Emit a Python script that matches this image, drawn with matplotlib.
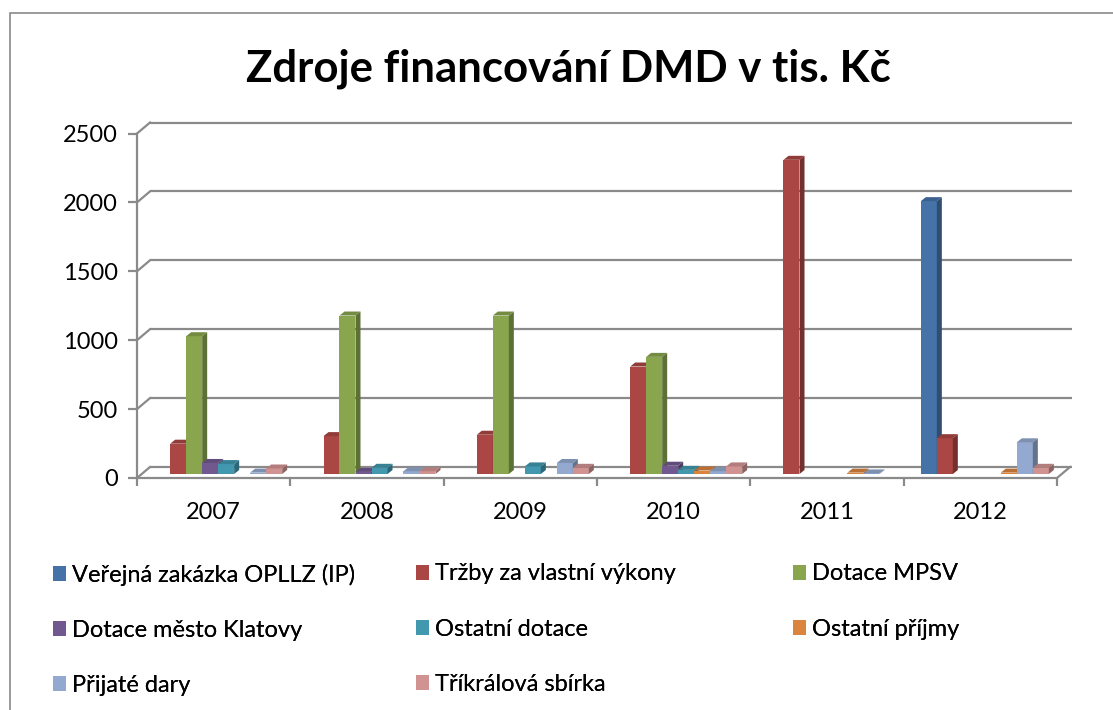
import matplotlib
matplotlib.use("Agg")
import matplotlib.pyplot as plt
import matplotlib.transforms as mtransforms
from matplotlib.patches import Polygon, Rectangle
import numpy as np

plt.rcParams['font.family'] = ['Lato', 'DejaVu Sans']

# data (tis. Kč)
years = ['2007', '2008', '2009', '2010', '2011', '2012']
series = ['Veřejná zakázka OPLLZ (IP)', 'Tržby za vlastní výkony', 'Dotace MPSV',
          'Dotace město Klatovy', 'Ostatní dotace', 'Ostatní příjmy',
          'Přijaté dary', 'Tříkrálová sbírka']
verejna_zakazka = [0, 0, 0, 0, 0, 1980]
trzby = [220, 275, 285, 780, 2280, 260]
dotace_mpsv = [1000, 1150, 1150, 850, 0, 0]
dotace_klatovy = [80, 15, 0, 60, 0, 0]
ostatni_dotace = [72, 45, 55, 30, 0, 0]
ostatni_prijmy = [0, 0, 0, 25, 10, 10]
prijate_dary = [10, 20, 80, 20, 4, 230]
trikralova = [40, 20, 45, 55, 0, 45]
values = [verejna_zakazka, trzby, dotace_mpsv, dotace_klatovy,
          ostatni_dotace, ostatni_prijmy, prijate_dary, trikralova]
yticks = [0, 500, 1000, 1500, 2000, 2500]

colors = ['#4572A7', '#AA4643', '#89A54E', '#71588F',
          '#4198AF', '#DB843D', '#93A9CF', '#D19392']
GRID = '#8a8a8a'

W, H = 1113, 710
fig = plt.figure(figsize=(W / 100, H / 100), dpi=100)

# outer chart border (clipped at right and bottom like the reference)
fig.patches.append(Rectangle((10 / W, -0.1), 1.2, (H - 13) / H + 0.1,
                             transform=fig.transFigure, fill=False,
                             edgecolor=GRID, lw=1.2))

# front plane of the 3D plot
x_left, x_right, y_zero, y_top = 137, 1057, 478, 133.5
ax = fig.add_axes([x_left / W, (H - y_zero) / H,
                   (x_right - x_left) / W, (y_zero - y_top) / H])
ax.set_xlim(0, len(years))
ax.set_ylim(0, 2500)
ax.patch.set_visible(False)

px_x = len(years) / (x_right - x_left)
px_y = 2500 / (y_zero - y_top)

# back wall / floor depth (pixels)
wall_dx, wall_dy = 13, 11
back = mtransforms.offset_copy(ax.transData, fig=fig, x=wall_dx, y=wall_dy, units='dots')
ax.hlines(yticks, 0, len(years) + 2 * px_x, colors=GRID, lw=1.6,
          transform=back, clip_on=False, zorder=1)
for v in yticks:
    ax.plot([0, wall_dx * px_x], [v, v + wall_dy * px_y], color=GRID, lw=1.6,
            clip_on=False, zorder=1)
ax.plot([len(years), len(years) + wall_dx * px_x], [0, wall_dy * px_y],
        color=GRID, lw=1.6, clip_on=False, zorder=1)

# bars with a small 3D depth
bar_off = mtransforms.offset_copy(ax.transData, fig=fig, x=4.5, y=4, units='dots')
slot = 16 * px_x
depth_x, depth_y = 5 * px_x, 4 * px_y


def shade(c, f):
    rgb = np.array(matplotlib.colors.to_rgb(c))
    return tuple(rgb * f)


for j, year in enumerate(years):
    start = j + 0.5 - slot * len(series) / 2
    for i, vals in enumerate(values):
        h = vals[j]
        if h <= 0:
            continue
        x0 = start + i * slot
        x1 = x0 + slot
        ax.bar(x0, h, width=slot, align='edge', color=colors[i], lw=0,
               transform=bar_off, clip_on=False, zorder=3)
        side = Polygon([(x1, 0), (x1 + depth_x, depth_y), (x1 + depth_x, h + depth_y), (x1, h)],
                       closed=True, facecolor=shade(colors[i], 0.68), lw=0,
                       transform=bar_off, clip_on=False, zorder=3)
        top = Polygon([(x0, h), (x0 + depth_x, h + depth_y), (x1 + depth_x, h + depth_y), (x1, h)],
                      closed=True, facecolor=shade(colors[i], 0.85), lw=0,
                      transform=bar_off, clip_on=False, zorder=3)
        ax.add_patch(side)
        ax.add_patch(top)

# axes (front edges)
for s in ['top', 'right']:
    ax.spines[s].set_visible(False)
for s in ['left', 'bottom']:
    ax.spines[s].set_color(GRID)
    ax.spines[s].set_linewidth(1.6)
    ax.spines[s].set_zorder(2)
ax.set_yticks(yticks)
ax.set_yticklabels([str(v) for v in yticks])
ax.set_xticks(np.arange(len(years) + 1))
ax.set_xticklabels([''] * (len(years) + 1))
ax.set_xticks(np.arange(len(years)) + 0.5, minor=True)
ax.set_xticklabels(years, minor=True)
ax.tick_params(axis='y', length=6.5, width=1.6, color=GRID, pad=7, labelsize=17)
ax.tick_params(axis='x', which='major', length=6, width=1.6, color=GRID)
ax.tick_params(axis='x', which='minor', length=0, pad=17, labelsize=17)

fig.text(568 / W, 1 - 69 / H, 'Zdroje financování DMD v tis. Kč',
         ha='center', va='center', fontsize=31.5, fontweight='bold')

# legend: three columns, placed like the Excel legend
handles = [Rectangle((0, 0), 1, 1, facecolor=c, lw=0) for c in colors]
col_x = [44, 407, 784]
columns = [[0, 3, 6], [1, 4, 7], [2, 5]]
for cx, idx in zip(col_x, columns):
    leg = fig.legend([handles[k] for k in idx], [series[k] for k in idx],
                     loc='upper left', bbox_to_anchor=(cx / W, 1 - 554 / H),
                     frameon=False, fontsize=17, handlelength=0.55, handleheight=0.6,
                     handletextpad=0.25, labelspacing=1.45, borderaxespad=0)
    fig.add_artist(leg)

fig.savefig('out.png', dpi=100)
